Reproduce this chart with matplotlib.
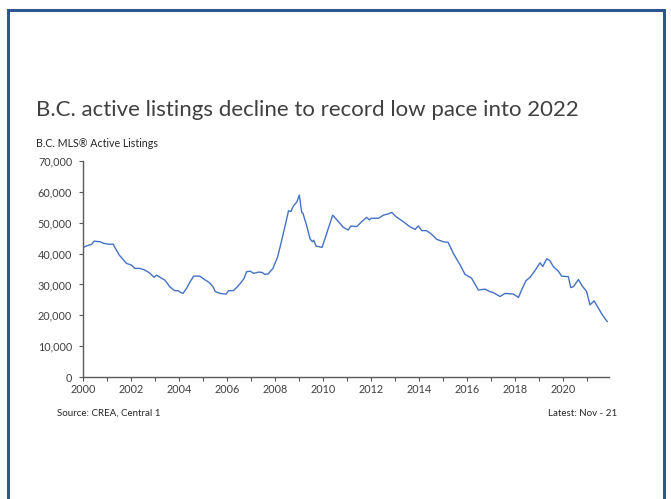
import matplotlib
matplotlib.use("Agg")
import matplotlib.pyplot as plt
from matplotlib.patches import Rectangle
from matplotlib.ticker import FuncFormatter, MultipleLocator

# B.C. MLS active listings, decimal year vs. count
years = [
    2000.00, 2000.15, 2000.35, 2000.45, 2000.70, 2000.85, 2001.05, 2001.25, 2001.30, 2001.50,
    2001.80, 2002.00, 2002.15, 2002.35, 2002.55, 2002.75, 2002.95, 2003.05, 2003.20, 2003.40,
    2003.60, 2003.80, 2003.95, 2004.00, 2004.15, 2004.30, 2004.45, 2004.60, 2004.85, 2005.05,
    2005.25, 2005.40, 2005.50, 2005.70, 2005.95, 2006.05, 2006.25, 2006.40, 2006.60, 2006.70,
    2006.80, 2006.95, 2007.10, 2007.30, 2007.45, 2007.55, 2007.70, 2007.90, 2008.10, 2008.25,
    2008.40, 2008.55, 2008.65, 2008.75, 2008.90, 2009.00, 2009.10, 2009.15, 2009.30, 2009.45,
    2009.55, 2009.60, 2009.70, 2009.95, 2010.14, 2010.39, 2010.63, 2010.83, 2011.04, 2011.14,
    2011.39, 2011.60, 2011.80, 2011.92, 2012.00, 2012.30, 2012.50, 2012.70, 2012.85, 2013.03,
    2013.33, 2013.60, 2013.82, 2013.96, 2014.10, 2014.30, 2014.50, 2014.72, 2015.00, 2015.20,
    2015.42, 2015.70, 2015.90, 2016.18, 2016.46, 2016.74, 2016.94, 2017.08, 2017.36, 2017.57,
    2017.92, 2018.13, 2018.26, 2018.44, 2018.61, 2018.82, 2019.03, 2019.14, 2019.31, 2019.44,
    2019.58, 2019.79, 2019.93, 2020.21, 2020.31, 2020.42, 2020.63, 2020.76, 2020.97, 2021.11,
    2021.28, 2021.42, 2021.60, 2021.74, 2021.83,
]
listings = [
    42000, 42500, 43000, 44000, 43800, 43300, 43000, 43000, 42200, 39500,
    36800, 36300, 35200, 35200, 34700, 33800, 32300, 33000, 32300, 31400,
    29300, 28000, 28000, 27700, 27100, 28700, 30900, 32700, 32700, 31600,
    30600, 29300, 27700, 27100, 26900, 28000, 28000, 29100, 30900, 32000,
    34100, 34300, 33600, 34000, 33900, 33300, 33400, 35200, 39000, 43800,
    48700, 53800, 53600, 55300, 56700, 58900, 53300, 53000, 49200, 44700,
    43800, 44300, 42400, 42000, 46500, 52400, 50300, 48500, 47600, 48900,
    48700, 50300, 51700, 50900, 51400, 51400, 52400, 52800, 53300, 51900,
    50300, 48700, 47800, 48900, 47400, 47400, 46300, 44600, 43800, 43600,
    40000, 36300, 33300, 32000, 28200, 28500, 27700, 27400, 26100, 27100,
    26900, 25800, 28200, 31200, 32300, 34500, 37000, 35800, 38300, 37700,
    35800, 34300, 32700, 32500, 29000, 29300, 31600, 29800, 27700, 23400,
    24700, 22900, 20500, 18900, 18000,
]

TITLE = "B.C. active listings decline to record low pace into 2022"
SUBTITLE = "B.C. MLS\u00ae Active Listings"
SOURCE = "Source: CREA, Central 1"
LATEST = "Latest: Nov - 21"

TEXT_COLOR = "#404040"
LINE_COLOR = "#4472C4"
FRAME_COLOR = "#2F5593"

plt.rcParams["font.family"] = ["Lato", "DejaVu Sans"]

fig = plt.figure(figsize=(6.71, 4.99), dpi=100)

# slide frame
frame = Rectangle((7.5 / 671, -0.05), (664 - 7.5) / 671, 1.05 - 9.5 / 499,
                  transform=fig.transFigure, fill=False, edgecolor=FRAME_COLOR,
                  linewidth=2.2)
fig.add_artist(frame)

fig.text(36 / 671, 1 - 116 / 499, TITLE, fontsize=16, fontweight="normal",
         color=TEXT_COLOR, ha="left", va="baseline")
fig.text(36 / 671, 1 - 147 / 499, SUBTITLE, fontsize=7.7, color="#262626",
         ha="left", va="baseline")

ax = fig.add_axes([83.3 / 671, 1 - 377.3 / 499, (608.7 - 83.3) / 671, (377.3 - 160.7) / 499])
ax.plot(years, listings, color=LINE_COLOR, linewidth=1.0)

ax.set_xlim(2000, 2021.89)
ax.set_ylim(0, 70000)
ax.xaxis.set_major_locator(MultipleLocator(2))
ax.xaxis.set_minor_locator(MultipleLocator(1))
ax.xaxis.set_major_formatter(FuncFormatter(lambda v, _: f"{int(v)}"))
ax.yaxis.set_major_locator(MultipleLocator(10000))
ax.yaxis.set_major_formatter(FuncFormatter(lambda v, _: f"{int(v):,}"))

for side in ("top", "right"):
    ax.spines[side].set_visible(False)
for side in ("left", "bottom"):
    ax.spines[side].set_color("#595959")
    ax.spines[side].set_linewidth(1.0)

ax.tick_params(axis="both", which="both", direction="out", color="#595959",
               labelcolor=TEXT_COLOR, labelsize=7.8, width=0.8)
ax.tick_params(axis="x", which="major", length=3, pad=2)
ax.tick_params(axis="x", which="minor", length=3)
ax.tick_params(axis="y", length=3, pad=5)

fig.text(57 / 671, 1 - 416 / 499, SOURCE, fontsize=7, color="#262626",
         ha="left", va="baseline")
fig.text(617 / 671, 1 - 416 / 499, LATEST, fontsize=7, color="#262626",
         ha="right", va="baseline")

fig.savefig("out.png", dpi=100, facecolor="white")
